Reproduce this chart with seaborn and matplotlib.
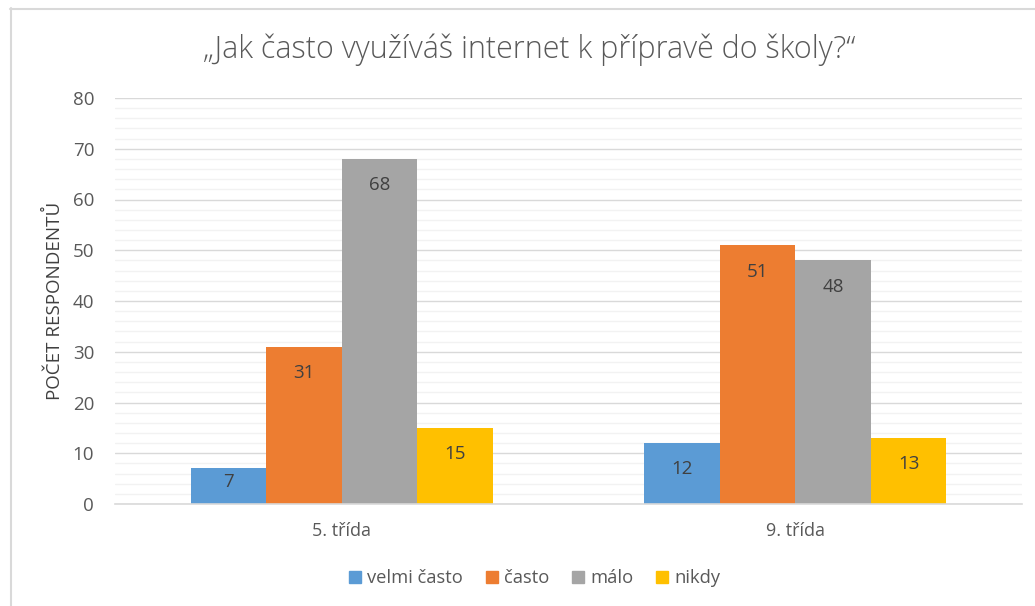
import matplotlib
matplotlib.use("Agg")
import matplotlib.pyplot as plt
import seaborn as sns
import pandas as pd
from matplotlib.lines import Line2D
from matplotlib.ticker import MultipleLocator

categories = ["5. třída", "9. třída"]
series = ["velmi často", "často", "málo", "nikdy"]
values = {
    "velmi často": [7, 12],
    "často": [31, 51],
    "málo": [68, 48],
    "nikdy": [15, 13],
}
colors = ["#5B9BD5", "#ED7D31", "#A5A5A5", "#FFC000"]
title = "„Jak často využíváš internet k přípravě do školy?“"
ylabel = "POČET RESPONDENTŮ"

rows = []
for s in series:
    for c, v in zip(categories, values[s]):
        rows.append({"kategorie": c, "odpověď": s, "počet": v})
df = pd.DataFrame(rows)

sns.set_theme(style="white")
plt.rcParams["font.family"] = ["Open Sans", "DejaVu Sans"]

W, H = 1035, 606
fig = plt.figure(figsize=(W / 100, H / 100), dpi=100)
ax = fig.add_axes([115 / W, 1 - 504 / H, (1022 - 115) / W, (504 - 98) / H])

sns.barplot(data=df, x="kategorie", y="počet", hue="odpověď", order=categories,
            hue_order=series, palette=colors, width=0.667, gap=0, saturation=1,
            ax=ax, legend=False, edgecolor="none", linewidth=0)

ax.set_ylim(0, 80)
ax.set_xlim(-0.5, 1.5)
ax.yaxis.set_major_locator(MultipleLocator(10))
ax.yaxis.set_minor_locator(MultipleLocator(2))
ax.grid(axis="y", which="minor", color="#F2F2F2", lw=1)
ax.grid(axis="y", which="major", color="#D9D9D9", lw=1)
ax.set_axisbelow(True)
for sp in ["top", "right", "left"]:
    ax.spines[sp].set_visible(False)
ax.spines["bottom"].set_color("#D9D9D9")
ax.spines["bottom"].set_linewidth(1.2)
ax.tick_params(axis="both", length=0, colors="#595959")
ax.tick_params(axis="y", pad=15, labelsize=13.5)
ax.tick_params(axis="x", pad=13, labelsize=13)
ax.set_xlabel("")
ax.set_ylabel(ylabel, fontsize=13.5, color="#404040", labelpad=6)

for cont in ax.containers:
    for bar in cont:
        v = bar.get_height()
        x = bar.get_x() + bar.get_width() / 2
        y = v - 5.2 if v >= 10 else v - 2.6
        ax.text(x, y, f"{v:g}", ha="center", va="center", fontsize=13.5, color="#404040")

fig.text(529 / W, 1 - 50 / H, title, ha="center", va="center",
         fontsize=22, color="#595959", fontweight="light")

handles = [Line2D([0], [0], marker="s", ls="", markersize=8.5, markerfacecolor=c,
                  markeredgecolor=c) for c in colors]
fig.legend(handles, series, loc="center", bbox_to_anchor=(533 / W, 1 - 578 / H), ncol=4,
           frameon=False, fontsize=13.2, handletextpad=0.15, columnspacing=1.1,
           handlelength=1.0, labelcolor="#595959")

fig.add_artist(Line2D([11 / W, 11 / W], [0, 1 - 8 / H], color="#D9D9D9", lw=1.5))
fig.add_artist(Line2D([10 / W, 1], [1 - 9 / H, 1 - 9 / H], color="#D9D9D9", lw=1.5))

fig.savefig("out.png", dpi=100)
